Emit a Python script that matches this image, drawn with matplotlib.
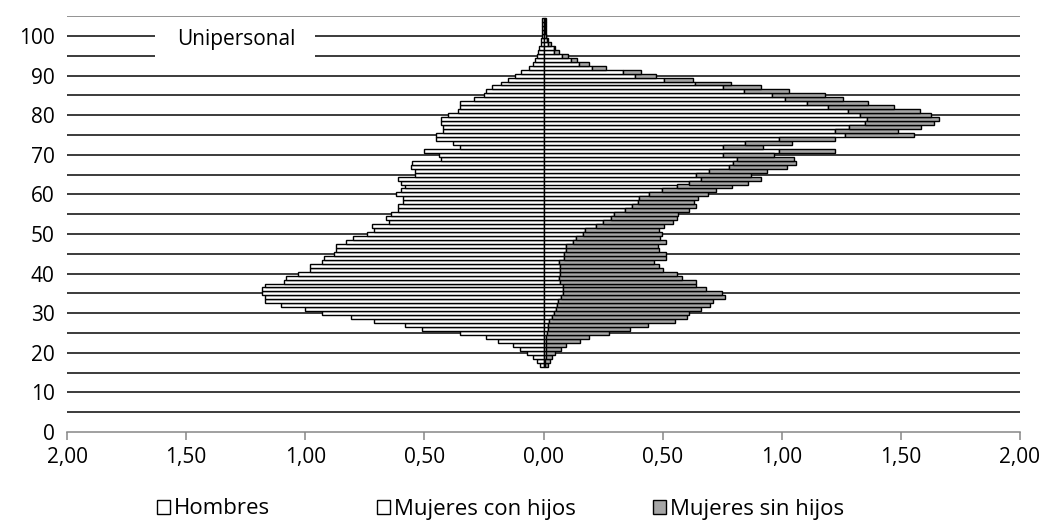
import matplotlib
matplotlib.use('Agg')
import matplotlib.pyplot as plt
import matplotlib.patches as mpatches
from matplotlib.ticker import FuncFormatter

plt.rcParams['font.family'] = ['Open Sans', 'DejaVu Sans']

# edades simples
ages = list(range(17, 105))

hombres = [0.013, 0.026, 0.043, 0.068, 0.10, 0.13, 0.19, 0.24, 0.35, 0.51,
           0.58, 0.71, 0.81, 0.93, 1.00, 1.10, 1.17, 1.17, 1.18, 1.18,
           1.17, 1.09, 1.08, 1.03, 0.98, 0.98, 0.93, 0.92, 0.88, 0.87,
           0.87, 0.83, 0.80, 0.74, 0.71, 0.72, 0.65, 0.66, 0.64, 0.61,
           0.61, 0.59, 0.59, 0.62, 0.60, 0.58, 0.60, 0.61, 0.54, 0.54,
           0.555, 0.55, 0.43, 0.44, 0.50, 0.35, 0.38, 0.45, 0.45, 0.42,
           0.42, 0.43, 0.43, 0.40, 0.36, 0.35, 0.35, 0.29, 0.25, 0.24,
           0.215, 0.18, 0.15, 0.12, 0.094, 0.06, 0.045, 0.034, 0.028, 0.025,
           0.017, 0.01, 0.009, 0.008, 0.008, 0.008, 0.008, 0.008]

mujeres_con = [0.005, 0.008, 0.01, 0.01, 0.012, 0.012, 0.01, 0.011, 0.014, 0.02,
               0.018, 0.025, 0.036, 0.042, 0.053, 0.056, 0.06, 0.074, 0.081, 0.081,
               0.081, 0.07, 0.067, 0.07, 0.07, 0.07, 0.067, 0.088, 0.088, 0.095,
               0.095, 0.123, 0.137, 0.165, 0.176, 0.221, 0.249, 0.284, 0.294, 0.344,
               0.372, 0.396, 0.40, 0.444, 0.498, 0.559, 0.609, 0.661, 0.64, 0.696,
               0.777, 0.794, 0.812, 0.755, 0.99, 0.755, 0.847, 0.99, 1.266, 1.224,
               1.283, 1.35, 1.356, 1.328, 1.276, 1.196, 1.108, 1.015, 0.961, 0.843,
               0.752, 0.637, 0.507, 0.386, 0.333, 0.204, 0.149, 0.116, 0.078, 0.046,
               0.042, 0.02, 0.015, 0.01, 0.008, 0.008, 0.008, 0.008]

mujeres_sin = [0.015, 0.02, 0.026, 0.04, 0.062, 0.083, 0.144, 0.179, 0.263, 0.343,
               0.419, 0.528, 0.566, 0.57, 0.608, 0.643, 0.65, 0.689, 0.668, 0.601,
               0.559, 0.57, 0.514, 0.489, 0.433, 0.416, 0.398, 0.426, 0.426, 0.391,
               0.384, 0.391, 0.352, 0.333, 0.31, 0.286, 0.296, 0.275, 0.269, 0.265,
               0.268, 0.237, 0.247, 0.245, 0.226, 0.232, 0.248, 0.252, 0.231, 0.24,
               0.247, 0.265, 0.24, 0.214, 0.234, 0.165, 0.198, 0.234, 0.287, 0.262,
               0.301, 0.29, 0.304, 0.298, 0.305, 0.276, 0.256, 0.24, 0.221, 0.186,
               0.161, 0.15, 0.119, 0.086, 0.077, 0.059, 0.041, 0.024, 0.024, 0.018,
               0.008, 0.01, 0.005, 0.002, 0.001, 0.001, 0.001, 0.001]

xticks = [-2.0, -1.5, -1.0, -0.5, 0.0, 0.5, 1.0, 1.5, 2.0]
yticks = list(range(0, 101, 10))
grid_ages = list(range(5, 106, 5))

GRAY = '#a6a6a6'
FS = 15

fig = plt.figure(figsize=(10.47, 5.23), dpi=100)
ax = fig.add_axes([67 / 1047, 1 - 432 / 523, 953 / 1047, 415.8 / 523])

for g in grid_ages:
    ax.axhline(g, color='#808080' if g == 105 else '#1a1a1a', lw=1.2, zorder=1)

kw = dict(height=1.0, edgecolor='black', linewidth=1.0, zorder=3)
ax.barh(ages, [-h for h in hombres], color='white', **kw)
ax.barh(ages, mujeres_con, color='white', **kw)
ax.barh(ages, mujeres_sin, left=mujeres_con, color=GRAY, **kw)

ax.set_xlim(-2, 2)
ax.set_ylim(0, 105)
ax.set_xticks(xticks)
ax.xaxis.set_major_formatter(FuncFormatter(lambda v, p: '{:.2f}'.format(abs(v)).replace('.', ',')))
ax.set_yticks(yticks)

for s in ['top', 'right', 'left']:
    ax.spines[s].set_visible(False)
ax.spines['bottom'].set_color('#868686')
ax.spines['bottom'].set_linewidth(1.1)
ax.tick_params(axis='x', direction='out', length=6, width=1.1, color='#868686',
               labelsize=FS, pad=5)
ax.tick_params(axis='y', length=0, labelsize=FS, pad=9)

# recuadro del título
ax.add_patch(mpatches.Rectangle((0.0923, 0.8995), 0.168, 0.094, transform=ax.transAxes,
                                facecolor='white', edgecolor='none', zorder=4))
ax.text(0.178, 0.943, 'Unipersonal', transform=ax.transAxes, ha='center', va='center',
        fontsize=FS, zorder=5)

labels = ['Hombres', 'Mujeres con hijos', 'Mujeres sin hijos']
colors = ['white', 'white', GRAY]
xpos = [157, 377, 653]
for lab, col, xp in zip(labels, colors, xpos):
    h = mpatches.Patch(facecolor=col, edgecolor='black', linewidth=1.0)
    fig.legend([h], [lab], loc='center left', bbox_to_anchor=(xp / 1047, 1 - 509 / 523),
               frameon=False, fontsize=16, handlelength=0.6, handleheight=0.6,
               handletextpad=0.15, borderpad=0, borderaxespad=0)

fig.savefig('out.png', dpi=100)
